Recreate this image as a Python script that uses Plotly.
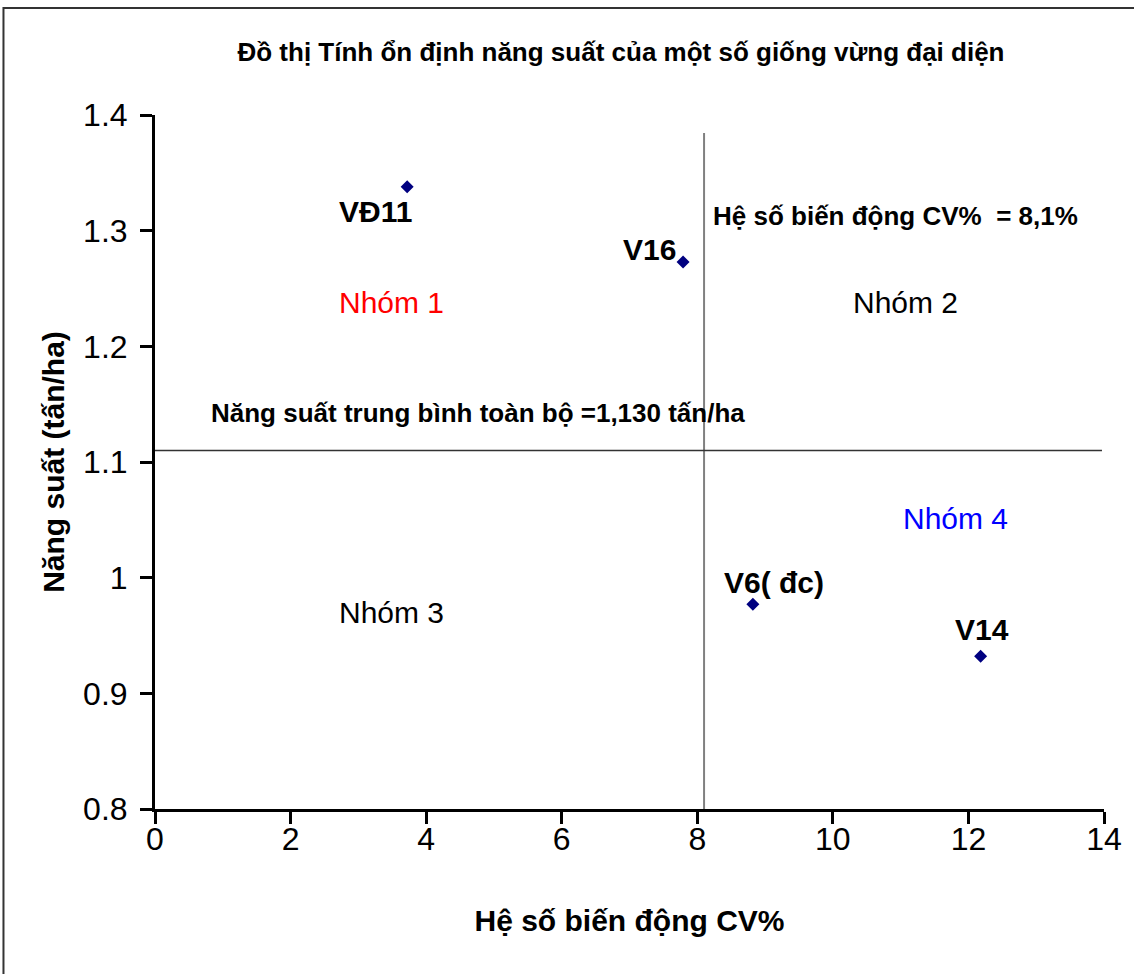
import plotly.graph_objects as go

# ---- data ----
varieties = ["VĐ11", "V16", "V6( đc)", "V14"]
cv_values = [3.72, 7.79, 8.82, 12.18]
yield_values = [1.338, 1.273, 0.977, 0.932]
label_dx = [-32, -34, 21, 1]
label_dy = [-25, 12, 22, 27]

cv_mean = 8.1
yield_mean_line = 1.11

x_ticks = [0, 2, 4, 6, 8, 10, 12, 14]
y_ticks = [0.8, 0.9, 1.0, 1.1, 1.2, 1.3, 1.4]
y_ticktext = ["0.8", "0.9", "1", "1.1", "1.2", "1.3", "1.4"]

groups = ["Nhóm 1", "Nhóm 2", "Nhóm 3", "Nhóm 4"]
group_x = [3.49, 11.07, 3.49, 11.81]
group_y = [1.238, 1.238, 0.970, 1.051]
group_colors = ["#ff0000", "#000000", "#000000", "#0000ff"]

title_text = "Đồ thị Tính ổn định năng suất của một số giống vừng đại diện"
x_title = "Hệ số biến động CV%"
y_title = "Năng suất (tấn/ha)"
cv_note = "Hệ số biến động CV%  = 8,1%"
mean_note = "Năng suất trung bình toàn bộ =1,130 tấn/ha"

FONT = "Liberation Sans, Arial, sans-serif"

W, H = 1134, 974
ML, MR, MT, MB = 155, 27, 115, 165
PW, PH = W - ML - MR, H - MT - MB

fig = go.Figure()
fig.add_trace(go.Scatter(
    x=cv_values, y=yield_values, mode="markers",
    marker=dict(symbol="diamond", size=10, color="#000080"),
    showlegend=False, hoverinfo="skip"))

# reference lines
fig.add_shape(type="line", x0=cv_mean, x1=cv_mean, y0=0.8, y1=1.3844,
              xref="x", yref="y", line=dict(color="#808080", width=2))
fig.add_shape(type="line", x0=0, x1=13.97, y0=yield_mean_line, y1=yield_mean_line,
              xref="x", yref="y", line=dict(color="#333333", width=1.5))

# outer border (cut at right/bottom like the reference)
fig.add_shape(type="rect", xref="paper", yref="paper",
              x0=(3 - ML) / PW, x1=(1150 - ML) / PW,
              y0=(MT + PH - 990) / PH, y1=(MT + PH - 8) / PH,
              line=dict(color="#333333", width=2))

ann = []
for n, x, y, dx, dy in zip(varieties, cv_values, yield_values, label_dx, label_dy):
    ann.append(dict(x=x, y=y, text="<b>" + n + "</b>", showarrow=False, xshift=dx, yshift=dy,
                    font=dict(family=FONT, size=30, color="#000000"),
                    xanchor="center", yanchor="middle"))
for g, x, y, c in zip(groups, group_x, group_y, group_colors):
    ann.append(dict(x=x, y=y, text=g, showarrow=False,
                    font=dict(family=FONT, size=30, color=c), xanchor="center", yanchor="middle"))
ann.append(dict(x=10.93, y=1.313, text="<b>" + cv_note + "</b>", showarrow=False,
                font=dict(family=FONT, size=26, color="#000000"), xanchor="center", yanchor="middle"))
ann.append(dict(x=4.76, y=1.142, text="<b>" + mean_note + "</b>", showarrow=False,
                font=dict(family=FONT, size=26, color="#000000"), xanchor="center", yanchor="middle"))

fig.update_layout(
    width=W, height=H,
    margin=dict(l=ML, r=MR, t=MT, b=MB),
    paper_bgcolor="white", plot_bgcolor="white",
    title=dict(text="<b>" + title_text + "</b>", x=621 / W, xanchor="center",
               y=1 - 52 / H, yanchor="middle",
               font=dict(family=FONT, size=26, color="#000000")),
    annotations=ann,
    xaxis=dict(range=[0, 14], tickvals=x_ticks, showgrid=False, zeroline=False,
               showline=True, linecolor="#000000", linewidth=3,
               ticks="outside", ticklen=12, tickwidth=3, tickcolor="#000000",
               ticklabelstandoff=-12,
               tickfont=dict(family=FONT, size=32, color="#000000"),
               title=dict(text="<b>" + x_title + "</b>", standoff=54,
                          font=dict(family=FONT, size=30, color="#000000"))),
    yaxis=dict(range=[0.8, 1.4], tickvals=y_ticks, ticktext=y_ticktext, showgrid=False,
               zeroline=False, showline=True, linecolor="#000000", linewidth=3,
               ticks="outside", ticklen=12, tickwidth=3, tickcolor="#000000",
               ticklabelstandoff=6,
               tickfont=dict(family=FONT, size=32, color="#000000"),
               title=dict(text="<b>" + y_title + "</b>", standoff=10,
                          font=dict(family=FONT, size=30, color="#000000"))),
)

fig.write_html("out.html", config={"displayModeBar": False},
               post_script="document.body.style.margin='0px';")
